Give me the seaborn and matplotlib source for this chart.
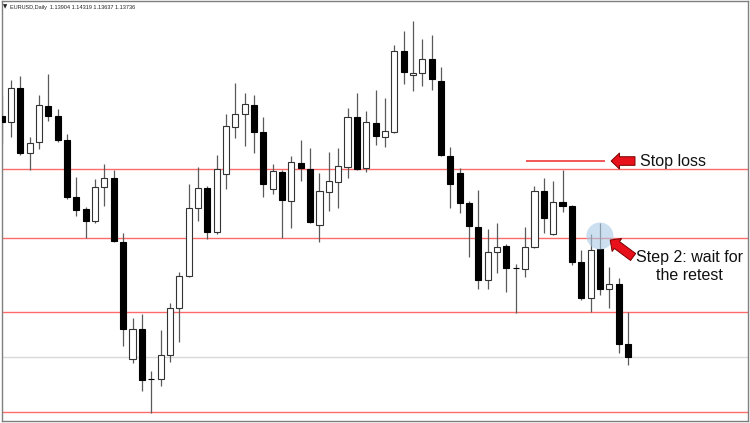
import matplotlib
matplotlib.use("Agg")
import matplotlib.pyplot as plt
import numpy as np
import seaborn as sns
from matplotlib.patches import Ellipse

# EURUSD daily candles (left to right)
opens = [1.16845, 1.16768, 1.17206, 1.16368, 1.16510, 1.16974, 1.16845, 1.16535, 1.15800, 1.15645,
         1.15490, 1.15929, 1.16045, 1.15220, 1.13710, 1.14097, 1.13452, 1.13452, 1.13762, 1.14368,
         1.14781, 1.15658, 1.15916, 1.15349, 1.16097, 1.16703, 1.16871, 1.16987, 1.16639, 1.15903,
         1.16123, 1.15748, 1.16239, 1.16161, 1.15439, 1.15865, 1.15994, 1.16187, 1.16832, 1.16174,
         1.16755, 1.16574, 1.16639, 1.17683, 1.17374, 1.17400, 1.17580, 1.17296, 1.16329, 1.16110,
         1.15723, 1.15413, 1.14729, 1.15091, 1.15168, 1.14884, 1.14871, 1.15155, 1.15877, 1.15323,
         1.15736, 1.15684, 1.14962, 1.14497, 1.15129, 1.14613, 1.14678, 1.13904]
highs = [1.17103, 1.17309, 1.17361, 1.16574, 1.17116, 1.17387, 1.16935, 1.16613, 1.16058, 1.15671,
         1.16032, 1.16226, 1.16148, 1.15336, 1.14239, 1.14291, 1.13555, 1.14084, 1.14433, 1.14833,
         1.15968, 1.16187, 1.15942, 1.16342, 1.16871, 1.17271, 1.17142, 1.17116, 1.16832, 1.16226,
         1.16148, 1.16329, 1.16535, 1.16432, 1.16110, 1.16381, 1.16432, 1.16948, 1.17142, 1.16909,
         1.17180, 1.17077, 1.17761, 1.17941, 1.18070, 1.17838, 1.17890, 1.17477, 1.16445, 1.16174,
         1.15748, 1.15890, 1.15387, 1.15465, 1.15194, 1.14936, 1.15413, 1.15942, 1.16045, 1.16006,
         1.16148, 1.15697, 1.15116, 1.15323, 1.15465, 1.14897, 1.14755, 1.14319]
lows = [1.16497, 1.16574, 1.16342, 1.16148, 1.16419, 1.16780, 1.16510, 1.15774, 1.15555, 1.15271,
        1.15465, 1.15684, 1.15220, 1.13878, 1.13659, 1.13297, 1.13014, 1.13362, 1.13672, 1.13930,
        1.14768, 1.15490, 1.15258, 1.15323, 1.15903, 1.16561, 1.16458, 1.16368, 1.15800, 1.15839,
        1.15271, 1.15400, 1.16006, 1.15465, 1.15220, 1.15619, 1.15658, 1.16045, 1.16148, 1.16123,
        1.16471, 1.16445, 1.16626, 1.17258, 1.17167, 1.17232, 1.17180, 1.16329, 1.15658, 1.15594,
        1.15026, 1.14613, 1.14613, 1.14820, 1.14575, 1.14304, 1.14768, 1.15142, 1.15336, 1.15310,
        1.15607, 1.14923, 1.14471, 1.14317, 1.14536, 1.14368, 1.13788, 1.13637]
closes = [1.16768, 1.17206, 1.16368, 1.16497, 1.16987, 1.16845, 1.16535, 1.15800, 1.15632, 1.15490,
          1.15929, 1.16045, 1.15232, 1.14097, 1.14097, 1.13439, 1.13452, 1.13762, 1.14368, 1.14781,
          1.15658, 1.15916, 1.15349, 1.16161, 1.16716, 1.16871, 1.17000, 1.16639, 1.15968, 1.16135,
          1.15761, 1.16252, 1.16174, 1.15478, 1.15877, 1.16006, 1.16200, 1.16832, 1.16161, 1.16768,
          1.16587, 1.16651, 1.17683, 1.17413, 1.17400, 1.17580, 1.17322, 1.16342, 1.15968, 1.15723,
          1.15426, 1.14729, 1.15091, 1.15155, 1.14884, 1.14884, 1.15155, 1.15877, 1.15529, 1.15736,
          1.15684, 1.14962, 1.14497, 1.15116, 1.14613, 1.14678, 1.13904, 1.13736]

level_prices = [1.16161, 1.15271, 1.14317, 1.13027]
bid_price = 1.13736
stop_price = 1.16264
stop_span = (56.1, 64.5)
retest_bar = 64
retest_price = 1.15297
title = "EURUSD,Daily  1.13904 1.14319 1.13637 1.13736"

sns.set_theme(style="white")
plt.rcParams["font.family"] = ["Liberation Sans", "DejaVu Sans"]

fig = plt.figure(figsize=(7.5, 4.23), dpi=100)
ax = fig.add_axes([2 / 750, 2 / 423, 746 / 750, 420 / 423])

x = np.arange(len(opens))
o = np.array(opens)
c = np.array(closes)
up = c > o

# levels
for p in level_prices:
    ax.axhline(p, color="#ff6b6b", lw=1.0, zorder=1)
ax.axhline(bid_price, color="#d9d9d9", lw=1.0, zorder=1)

# candles
ax.vlines(x, lows, highs, color="#5a5a5a", lw=0.9, zorder=2)
ax.bar(x[up], (c - o)[up], bottom=o[up], width=0.65,
       color="white", edgecolor="#333333", lw=0.8, zorder=3)
ax.bar(x[~up], (c - o)[~up], bottom=o[~up], width=0.65,
       color="black", edgecolor="black", lw=0.8, zorder=3)

# stop loss marker
ax.hlines(stop_price, *stop_span, color="#f04a4a", lw=1.3, zorder=3)
arrow = dict(arrowstyle="simple,head_length=0.6,head_width=1.15,tail_width=0.62",
             mutation_scale=10, fc="#e8101a", ec="#7a0000", lw=0.7,
             shrinkA=0, shrinkB=0)
ax.annotate("", xy=(65.2, stop_price), xytext=(67.75, stop_price),
            arrowprops=arrow, zorder=5)
ax.text(68.3, stop_price, "Stop loss", fontsize=11.5, ha="left", va="center",
        color="#111111")

# retest marker
ax.add_patch(Ellipse((retest_bar, retest_price), 2.9, 0.00348,
                     fc="#a9cbe6", ec="none", alpha=0.6, zorder=4))
ax.annotate("", xy=(65.1, 1.15245), xytext=(67.55, 1.15026),
            arrowprops=arrow, zorder=5)
ax.text(73.6, 1.14903, "Step 2: wait for\nthe retest", fontsize=11.5,
        ha="center", va="center", multialignment="center", color="#111111")

ax.set_xlim(0.04, 79.84)
ax.set_ylim(1.129104, 1.183284)
ax.set_xticks([])
ax.set_yticks([])
for s in ax.spines.values():
    s.set_color("#7f7f7f")
    s.set_linewidth(1.0)

fig.text(3 / 750, 1 - 7 / 423, "\u25bc", fontsize=4, va="center",
         family=["DejaVu Sans"], color="#222222")
fig.text(10 / 750, 1 - 7 / 423, title, fontsize=4, va="center", color="#222222")

fig.savefig("out.png", dpi=100, facecolor="white")
